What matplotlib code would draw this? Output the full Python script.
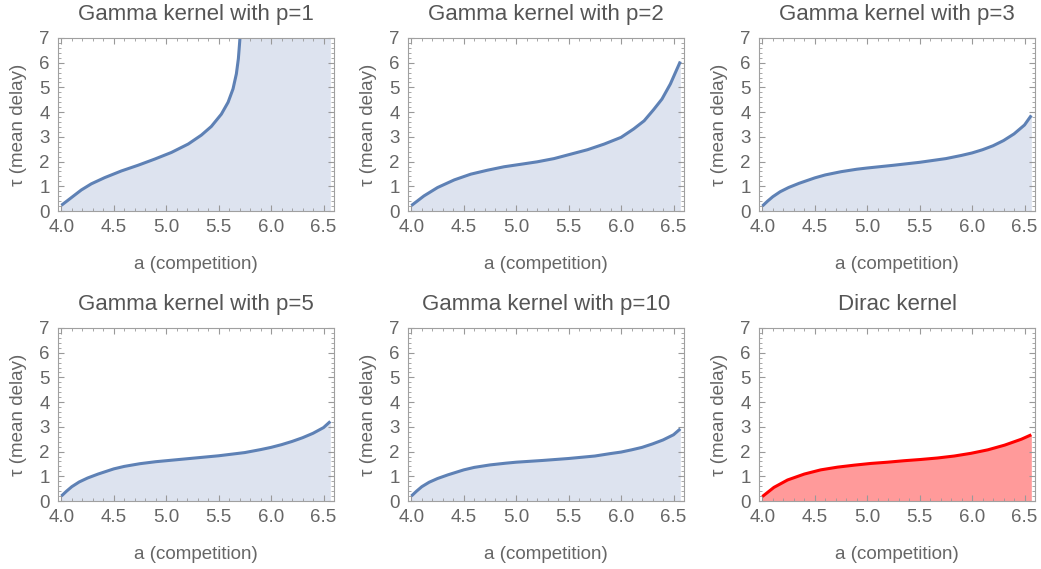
import matplotlib
matplotlib.use("Agg")
import matplotlib.pyplot as plt
from matplotlib.ticker import MultipleLocator

plt.rcParams['font.family'] = ['Liberation Sans', 'DejaVu Sans']

# values
a_p1 = [4.0, 4.095, 4.19, 4.286, 4.413, 4.572, 4.731, 4.89, 5.05, 5.21, 5.335,
        5.43, 5.526, 5.59, 5.637, 5.669, 5.688, 5.698, 5.705]
tau_p1 = [0.23, 0.54, 0.85, 1.10, 1.35, 1.62, 1.85, 2.10, 2.37, 2.71, 3.07,
          3.42, 3.92, 4.40, 4.94, 5.55, 6.16, 6.70, 7.1]

a_p2 = [4.0, 4.12, 4.25, 4.41, 4.566, 4.725, 4.884, 5.043, 5.2, 5.36, 5.52,
        5.68, 5.84, 6.0, 6.12, 6.22, 6.31, 6.39, 6.47, 6.52, 6.565]
tau_p2 = [0.22, 0.61, 0.95, 1.26, 1.49, 1.65, 1.79, 1.89, 1.99, 2.12, 2.30,
          2.48, 2.71, 2.98, 3.32, 3.65, 4.10, 4.53, 5.14, 5.62, 6.05]

a_gamma = [4.0, 4.05, 4.1, 4.17, 4.25, 4.35, 4.5, 4.6, 4.75, 4.9, 5.0, 5.25,
           5.5, 5.75, 5.9, 6.0, 6.1, 6.2, 6.3, 6.4, 6.5, 6.565]
tau_p3 = [0.2, 0.40, 0.58, 0.78, 0.95, 1.12, 1.34, 1.46, 1.59, 1.69, 1.74, 1.85,
          1.97, 2.12, 2.25, 2.35, 2.48, 2.64, 2.85, 3.12, 3.48, 3.87]
tau_p5 = [0.2, 0.40, 0.58, 0.77, 0.93, 1.09, 1.30, 1.40, 1.51, 1.59, 1.63, 1.73,
          1.83, 1.96, 2.08, 2.17, 2.28, 2.41, 2.56, 2.74, 2.97, 3.22]
tau_p10 = [0.2, 0.40, 0.58, 0.76, 0.91, 1.06, 1.26, 1.36, 1.46, 1.53, 1.57, 1.64,
           1.72, 1.82, 1.92, 1.98, 2.07, 2.17, 2.31, 2.47, 2.68, 2.92]

a_dirac = [4.0, 4.11, 4.24, 4.40, 4.557, 4.717, 4.876, 5.035, 5.194, 5.353, 5.51,
           5.67, 5.83, 5.99, 6.15, 6.31, 6.47, 6.565]
tau_dirac = [0.18, 0.55, 0.85, 1.09, 1.26, 1.37, 1.45, 1.52, 1.57, 1.63, 1.68,
             1.74, 1.82, 1.93, 2.07, 2.26, 2.50, 2.68]

titles = ["Gamma kernel with p=1", "Gamma kernel with p=2", "Gamma kernel with p=3",
          "Gamma kernel with p=5", "Gamma kernel with p=10", "Dirac kernel"]

W, H = 1041, 569
BLUE = "#5e81b5"
BLUE_FILL = "#dde3ef"
RED = "#ff0000"
RED_FILL = "#ff9a9a"
GRAY = "#666666"

fig = plt.figure(figsize=(W / 100, H / 100), dpi=100)

lefts = [58, 408, 759]
tops = [38, 328]
pw, ph = 276, 173

series = [
    (a_p1, tau_p1, a_p1 + [6.565], tau_p1 + [tau_p1[-1]]),
    (a_p2, tau_p2, a_p2, tau_p2),
    (a_gamma, tau_p3, a_gamma, tau_p3),
    (a_gamma, tau_p5, a_gamma, tau_p5),
    (a_gamma, tau_p10, a_gamma, tau_p10),
    (a_dirac, tau_dirac, a_dirac, tau_dirac),
]

for i, (x, y, fx, fy) in enumerate(series):
    r, c = divmod(i, 3)
    ax = fig.add_axes([lefts[c] / W, 1 - (tops[r] + ph) / H, pw / W, ph / H])
    if i == 5:
        lc, fc = RED, RED_FILL
    else:
        lc, fc = BLUE, BLUE_FILL
    ax.fill_between(fx, 0, fy, color=fc, lw=0)
    ax.plot(x, y, color=lc, lw=2.2, solid_capstyle='butt', solid_joinstyle='round')
    ax.set_xlim(3.968, 6.6)
    ax.set_ylim(0, 7)
    ax.xaxis.set_major_locator(MultipleLocator(0.5))
    ax.xaxis.set_minor_locator(MultipleLocator(0.1))
    ax.yaxis.set_major_locator(MultipleLocator(1))
    ax.yaxis.set_minor_locator(MultipleLocator(0.2))
    ax.xaxis.set_major_formatter(plt.FuncFormatter(lambda v, p: f"{v:.1f}"))
    ax.tick_params(which='both', direction='in', top=True, right=True,
                   color='#999999', labelcolor=GRAY, labelsize=13.5)
    ax.tick_params(which='major', length=4, width=0.8)
    ax.tick_params(which='minor', length=2, width=0.6)
    ax.tick_params(axis='x', which='major', pad=6)
    ax.tick_params(axis='y', which='major', pad=6)
    for s in ax.spines.values():
        s.set_color('#a0a0a0')
        s.set_linewidth(0.8)
    ax.set_title(titles[i], fontsize=16, color='#555555', pad=13)
    ax.set_xlabel("a (competition)", fontsize=13.5, color=GRAY, labelpad=14)
    ax.set_ylabel("τ (mean delay)", fontsize=13.5, color=GRAY, labelpad=9)

fig.savefig("out.png", dpi=100)
